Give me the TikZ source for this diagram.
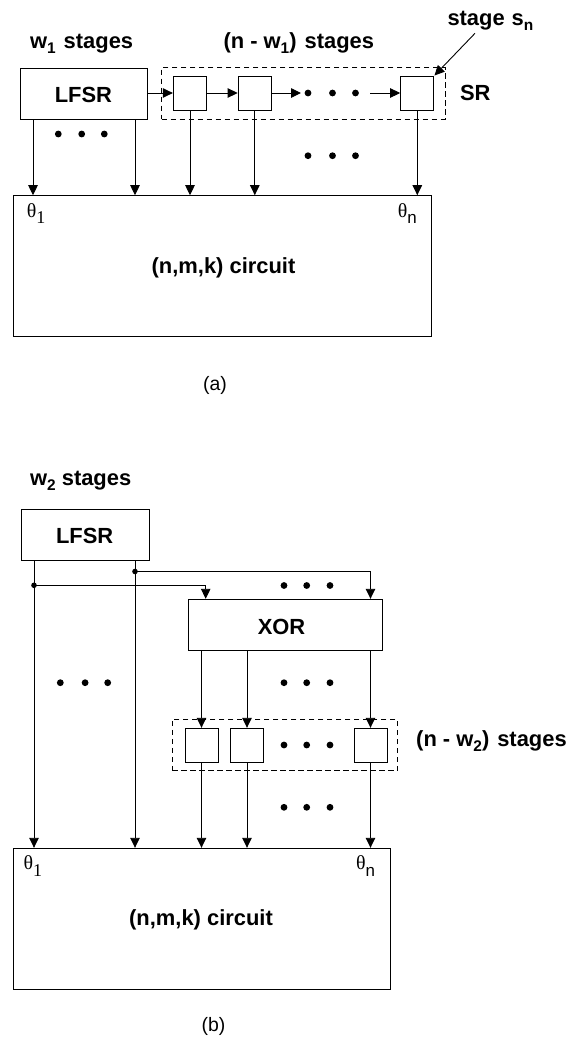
\documentclass[tikz,border=0pt]{standalone}
\usepackage{fontspec}
\setmainfont{Liberation Sans}
\newfontfamily\thfont{Liberation Serif}
\usetikzlibrary{arrows.meta}
\newcommand{\mysub}[1]{\raisebox{-5bp}{\fontsize{15.5}{15.5}\selectfont #1}}
\newcommand{\thsubone}{\raisebox{-6.5bp}{\fontsize{18}{18}\thfont 1}}
\newcommand{\thsubn}{\raisebox{-6.5bp}{\fontsize{17}{17}\fontspec{Liberation Sans}n}}
\begin{document}
\begin{tikzpicture}[x=1bp,y=-1bp,
  box/.style={draw,line width=1bp,inner sep=0pt},
  sq/.style={draw,line width=1bp,inner sep=0pt,minimum width=33.3bp,minimum height=34bp},
  grp/.style={draw,line width=0.9bp,dash pattern=on 5.5bp off 3.5bp,inner sep=0pt},
  lbl/.style={font=\fontsize{22}{26}\selectfont\bfseries,inner sep=0pt},
  captxt/.style={font=\fontsize{19.5}{23}\selectfont,inner sep=0pt},
  th/.style={font=\fontsize{20}{24}\thfont,inner sep=0pt,anchor=base west},
  arr/.style={-{Triangle[width=9.5bp,length=10bp]},line width=0.9bp}]
\useasboundingbox (0,0) rectangle (581,1039);

% ---------------- panel (a) ----------------
\node[lbl,anchor=base west] (tw1) at (29.9,48) {w\mysub{1}\hspace{8bp}stages};
\node[lbl,anchor=base west] (tnw1) at (223.3,48) {(n - w\mysub{1})\hspace{8bp}stages};
\node[lbl,anchor=base west] (tsn) at (447.3,25) {stage\hspace{7bp}s\mysub{n}};

\node[grp,minimum width=283.3bp,minimum height=52bp] (srA) at (303.35,93.3) {};
\node[box,minimum width=126.6bp,minimum height=51bp] (lfsrA) at (84,93.8) {};
\node[lbl,anchor=base] (lfsrAt) at (83.4,102.7) {LFSR};
\node[sq] (sqA1) at (190,93) {};
\node[sq] (sqA2) at (254.8,93) {};
\node[sq] (sqA3) at (417.3,93) {};
\node[lbl,anchor=base] (srAt) at (475.3,100.5) {SR};

\node[box,minimum width=418.4bp,minimum height=141bp] (circA) at (222.5,266.2) {};
\node[lbl] (circAt) at (223.5,268.3) {(n,m,k) circuit};
\node[th] (th1A) at (26.7,217.3) {θ\thsubone};
\node[th] (thnA) at (397.7,217.3) {θ\thsubn};
\node[captxt] (capA) at (215,385) {(a)};

\coordinate (xa1) at (33,0);
\coordinate (xa2) at (135,0);
\coordinate (dA1) at (301,93);
\coordinate (dA2) at (370,93);
\coordinate (snTail) at (475,33.3);

\draw[arr] (lfsrA.east |- sqA1) -- (sqA1.west);
\draw[arr] (sqA1.east) -- (sqA2.west);
\draw[arr] (sqA2.east) -- (dA1);
\draw[arr] (dA2) -- (sqA3.west);
\draw[arr] (snTail) -- (sqA3.north east);
\draw[arr] (lfsrA.south -| xa1) -- (circA.north -| xa1);
\draw[arr] (lfsrA.south -| xa2) -- (circA.north -| xa2);
\draw[arr] (sqA1.south) -- (circA.north -| sqA1.south);
\draw[arr] (sqA2.south) -- (circA.north -| sqA2.south);
\draw[arr] (sqA3.south) -- (circA.north -| sqA3.south);

\foreach \x in {308,332.5,355.5}{\fill (\x,93) circle (3.4);}
\foreach \x in {58.3,81.7,104.3}{\fill (\x,134) circle (3.4);}
\foreach \x in {308,332.5,355.5}{\fill (\x,155.7) circle (3.4);}

% ---------------- panel (b) ----------------
\node[lbl,anchor=base west] (tw2) at (29.9,485) {w\mysub{2} stages};
\node[box,minimum width=127.3bp,minimum height=51.3bp] (lfsrB) at (85.35,534.65) {};
\node[lbl,anchor=base] (lfsrBt) at (84.7,543.3) {LFSR};
\node[box,minimum width=194.4bp,minimum height=50.7bp] (xorB) at (285.5,624.65) {};
\node[lbl,anchor=base] (xorBt) at (281.5,634) {XOR};
\node[grp,minimum width=225.5bp,minimum height=51.4bp] (srB) at (284.8,745) {};
\node[sq,minimum width=33bp] (sqB1) at (201.5,745.3) {};
\node[sq,minimum width=33bp] (sqB2) at (247,745.3) {};
\node[sq,minimum width=33bp] (sqB3) at (370.5,745.3) {};
\node[lbl,anchor=base west] (tnw2) at (416,746.7) {(n - w\mysub{2})\hspace{8bp}stages};

\node[box,minimum width=377.4bp,minimum height=140.7bp] (circB) at (202,918.65) {};
\node[lbl] (circBt) at (201,920) {(n,m,k) circuit};
\node[th] (th1B) at (23.5,869.5) {θ\thsubone};
\node[th] (thnB) at (356,869.5) {θ\thsubn};
\node[captxt] (capB) at (213.5,1026.7) {(b)};

\coordinate (xb1) at (34,0);
\coordinate (xb2) at (135,0);
\coordinate (jB1) at (34,585.3);
\coordinate (jB2) at (135,571.5);
\coordinate (xi1) at (205.7,0);
\coordinate (xi2) at (370.5,0);

\draw[arr] (lfsrB.south -| xb1) -- (circB.north -| xb1);
\draw[arr] (lfsrB.south -| xb2) -- (circB.north -| xb2);
\fill (jB1) circle (2.8);
\fill (jB2) circle (2.8);
\draw[arr] (jB1) -| (xorB.north -| xi1);
\draw[arr] (jB2) -| (xorB.north -| xi2);
\draw[arr] (xorB.south -| sqB1) -- (sqB1.north);
\draw[arr] (xorB.south -| sqB2) -- (sqB2.north);
\draw[arr] (xorB.south -| sqB3) -- (sqB3.north);
\draw[arr] (sqB1.south) -- (circB.north -| sqB1);
\draw[arr] (sqB2.south) -- (circB.north -| sqB2);
\draw[arr] (sqB3.south) -- (circB.north -| sqB3);

\foreach \x in {284,306.7,330}{\fill (\x,585.5) circle (3.4);}
\foreach \x in {60.3,85.1,107.7}{\fill (\x,682.7) circle (3.4);}
\foreach \x in {284,306.7,330}{\fill (\x,682.7) circle (3.4);}
\foreach \x in {284,306.7,330}{\fill (\x,745) circle (3.4);}
\foreach \x in {284,306.7,330}{\fill (\x,807.3) circle (3.4);}
\end{tikzpicture}
\end{document}
